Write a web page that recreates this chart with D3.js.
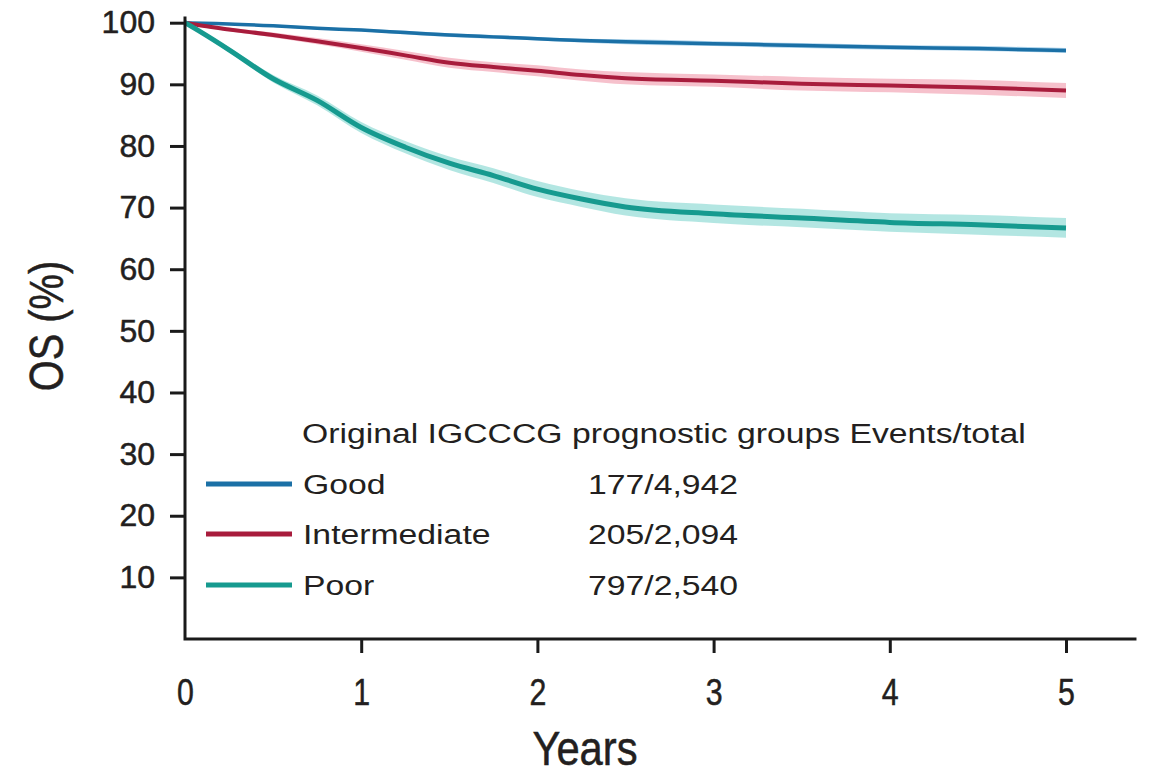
<!DOCTYPE html>
<html>
<head>
<meta charset="utf-8">
<script src="https://cdn.jsdelivr.net/npm/d3@7"></script>
<style>
  body { margin: 0; background: #fff; }
  svg { display: block; }
  text { font-family: "Liberation Sans", Arial, Helvetica, sans-serif; fill: #231f20; }
  .heavy { stroke: #231f20; stroke-width: 0.5px; }
</style>
</head>
<body>
<script>
// Survival estimates (years, OS %)
const years = [0, 0.1, 0.25, 0.5, 0.75, 1, 1.25, 1.5, 1.75, 2, 2.25, 2.5, 3, 3.5, 4, 4.5, 5];
const goodOS = [100, 99.9, 99.8, 99.5, 99.1, 98.8, 98.4, 98.0, 97.7, 97.4, 97.1, 96.9, 96.6, 96.3, 96.0, 95.8, 95.5];
const interOS = [100, 99.5, 98.9, 98.0, 97.0, 95.9, 94.7, 93.5, 92.8, 92.2, 91.5, 91.0, 90.6, 90.1, 89.8, 89.5, 89.0];
const poorOS = [100, 98.3, 95.6, 90.9, 87.4, 83.0, 79.8, 77.2, 75.2, 73.0, 71.4, 70.1, 69.0, 68.3, 67.6, 67.2, 66.7];
// half-width of the confidence band (OS %)
const goodCi = [0, 0.1, 0.1, 0.2, 0.2, 0.2, 0.3, 0.3, 0.3, 0.3, 0.3, 0.4, 0.4, 0.4, 0.4, 0.4, 0.4];
const interCi = [0, 0.2, 0.3, 0.4, 0.5, 0.6, 0.7, 0.8, 0.8, 0.9, 0.9, 1.0, 1.0, 1.1, 1.1, 1.2, 1.2];
const poorCi = [0, 0.3, 0.4, 0.6, 0.8, 0.9, 1.0, 1.1, 1.2, 1.3, 1.3, 1.4, 1.5, 1.5, 1.5, 1.6, 1.6];

const groups = ["Good", "Intermediate", "Poor"];
const events = ["177/4,942", "205/2,094", "797/2,540"];
const yTicks = [10, 20, 30, 40, 50, 60, 70, 80, 90, 100];
const xTicks = [0, 1, 2, 3, 4, 5];

const lineColors = ["#1b70a6", "#a81c3c", "#169a8f"];
const bandColors = ["#9fcbe8", "#f4b6c3", "#a6e2dd"];
const lineWidths = [3.5, 4, 5];

const W = 1151, H = 776;
const svg = d3.select("body").append("svg")
    .attr("width", W)
    .attr("height", H);

const x = d3.scaleLinear().domain([0, 5]).range([185, 1066]);
const y = d3.scaleLinear().domain([0, 100]).range([639, 22.7]);

const series = [goodOS, interOS, poorOS].map((vals, i) => {
    const ci = [goodCi, interCi, poorCi][i];
    return years.map((t, j) => ({ t: t, v: vals[j], lo: vals[j] - ci[j], hi: Math.min(100, vals[j] + ci[j]) }));
});

// bands
const area = d3.area()
    .x(d => x(d.t))
    .y0(d => y(d.lo))
    .y1(d => y(d.hi))
    .curve(d3.curveMonotoneX);

svg.selectAll(".band")
    .data(series)
    .enter()
    .append("path")
    .attr("class", "band")
    .attr("d", area)
    .attr("fill", (d, i) => bandColors[i])
    .attr("opacity", 0.85);

// curves
const line = d3.line()
    .x(d => x(d.t))
    .y(d => y(d.v))
    .curve(d3.curveMonotoneX);

svg.selectAll(".curve")
    .data(series)
    .enter()
    .append("path")
    .attr("class", "curve")
    .attr("d", line)
    .attr("fill", "none")
    .attr("stroke", (d, i) => lineColors[i])
    .attr("stroke-width", (d, i) => lineWidths[i])
    .attr("stroke-linejoin", "round");

// Y axis
const yAxis = svg.append("g")
    .attr("transform", `translate(${x(0)},0)`)
    .call(d3.axisLeft(y).tickValues(yTicks).tickSize(15).tickPadding(15));
yAxis.select(".domain").remove();
yAxis.selectAll("line").attr("stroke", "#1a1a1a").attr("stroke-width", 3);
yAxis.selectAll("text")
    .attr("class", "heavy")
    .style("font-size", "32px")
    .attr("fill", "#231f20");

// X axis (labels are condensed in the original)
const xAxis = svg.append("g")
    .attr("transform", `translate(0,${y(0)})`)
    .call(d3.axisBottom(x).tickValues(xTicks).tickSize(14).tickFormat(d3.format("d")));
xAxis.select(".domain").remove();
xAxis.selectAll(".tick").filter(d => d === 0).select("line").remove();
xAxis.selectAll("line").attr("stroke", "#1a1a1a").attr("stroke-width", 3);
xAxis.selectAll("text")
    .attr("class", "heavy")
    .attr("y", 66)
    .attr("dy", 0)
    .attr("transform", "scale(0.82,1)")
    .style("font-size", "37px")
    .attr("fill", "#231f20");

// axis lines
svg.append("path")
    .attr("d", `M${x(0)},${y(101)}V${y(0)}H${x(5.4)}`)
    .attr("fill", "none")
    .attr("stroke", "#1a1a1a")
    .attr("stroke-width", 3);

// axis titles
svg.append("text")
    .attr("class", "heavy")
    .attr("transform", "translate(585,765) scale(0.87,1)")
    .attr("text-anchor", "middle")
    .style("font-size", "48px")
    .text("Years");

svg.append("text")
    .attr("class", "heavy")
    .attr("transform", "translate(63,326) rotate(-90) scale(0.83,1)")
    .attr("text-anchor", "middle")
    .style("font-size", "48px")
    .text("OS (%)");

// legend (text in the original is set wide)
const legend = svg.append("g");
const wide = 1.25;
legend.append("text")
    .attr("transform", `translate(302,443) scale(${wide},1)`)
    .style("font-size", "27px")
    .text("Original IGCCCG prognostic groups Events/total");

const rowY = [484, 534, 585];
groups.forEach((g, i) => {
    legend.append("line")
        .attr("x1", 206).attr("x2", 292)
        .attr("y1", rowY[i]).attr("y2", rowY[i])
        .attr("stroke", lineColors[i])
        .attr("stroke-width", 5);
    legend.append("text")
        .attr("transform", `translate(303,${rowY[i] + 10}) scale(${wide},1)`)
        .style("font-size", "27px")
        .text(g);
    legend.append("text")
        .attr("transform", `translate(588,${rowY[i] + 10}) scale(${wide},1)`)
        .style("font-size", "27px")
        .text(events[i]);
});
</script>
</body>
</html>
